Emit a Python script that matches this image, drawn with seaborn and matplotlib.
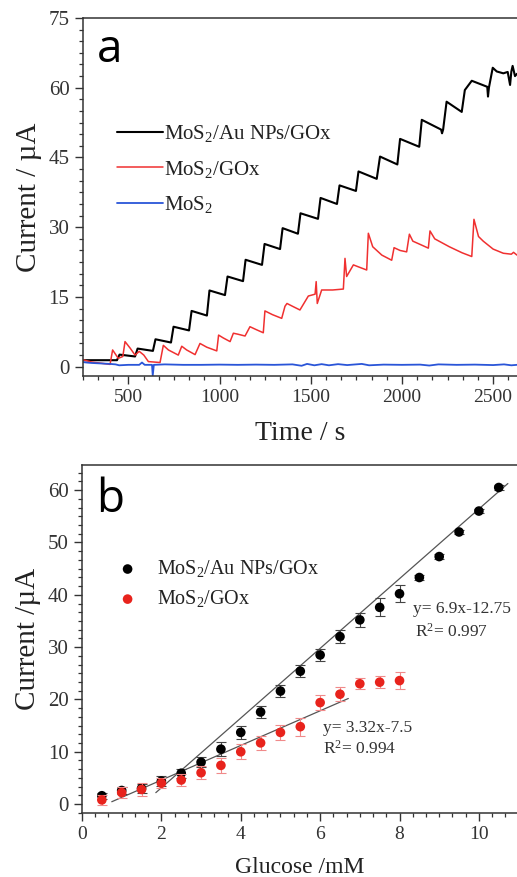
import numpy as np
import pandas as pd
import matplotlib
matplotlib.use("Agg")
import matplotlib.pyplot as plt
from matplotlib.ticker import MultipleLocator, AutoMinorLocator
import seaborn as sns

# ---- panel a: amperometric responses (time in s, current in µA) ----
t_aunp = [250, 300, 380, 438, 452, 537, 551, 635, 649, 734, 748, 833, 847, 931, 945,
          1030, 1044, 1129, 1143, 1233, 1247, 1332, 1346, 1430, 1444, 1540, 1554, 1644,
          1658, 1748, 1762, 1862, 1880, 1975, 1990, 2095, 2109, 2215, 2220, 2226, 2245,
          2328, 2345, 2383, 2468, 2472, 2477, 2498, 2520, 2556, 2580, 2593, 2600, 2607,
          2620, 2631]
i_aunp = [1.4, 1.4, 1.4, 1.4, 2.6, 2.2, 3.9, 3.4, 5.9, 5.2, 8.6, 7.8, 12.0, 11.0, 16.4,
          15.4, 19.4, 18.4, 23.0, 21.9, 26.4, 25.3, 29.8, 28.6, 33.0, 31.8, 36.3, 35.0,
          39.0, 37.8, 42.0, 40.4, 45.2, 43.5, 49.0, 47.3, 53.1, 51.0, 50.2, 51.0, 57.0,
          54.8, 59.5, 61.5, 60.2, 58.1, 60.0, 64.3, 63.5, 63.1, 63.4, 60.6, 63.5, 64.7,
          62.5, 63.0]

t_gox = [250, 300, 400, 414, 445, 470, 482, 510, 537, 560, 585, 610, 674, 692, 720, 774,
         793, 820, 866, 893, 930, 985, 995, 1020, 1058, 1076, 1100, 1140, 1167, 1200,
         1240, 1249, 1290, 1341, 1359, 1370, 1400, 1441, 1487, 1524, 1530, 1536, 1560,
         1620, 1679, 1688, 1697, 1734, 1760, 1807, 1816, 1840, 1890, 1944, 1957, 1990,
         2026, 2041, 2060, 2100, 2145, 2154, 2180, 2260, 2330, 2383, 2395, 2420, 2446,
         2500, 2556, 2600, 2612, 2631]
i_gox = [1.5, 1.0, 0.5, 3.6, 1.8, 2.2, 5.4, 4.0, 2.5, 3.3, 2.5, 1.1, 0.9, 4.6, 3.6, 2.5,
         4.4, 3.6, 2.6, 5.0, 4.2, 3.4, 6.8, 6.2, 5.4, 7.2, 7.0, 6.6, 8.6, 8.0,
         7.3, 12.0, 11.2, 10.4, 13.0, 13.6, 13.0, 12.2, 15.2, 15.6, 18.3, 13.6, 16.5,
         16.5, 16.7, 23.3, 19.4, 21.9, 21.5, 20.8, 28.7, 25.8, 24.0, 22.9, 25.6, 25.0,
         24.7, 28.5, 27.0, 26.3, 25.5, 29.2, 27.5, 25.8, 24.5, 23.7, 31.7, 28.0, 27.0,
         25.3, 24.4, 24.2, 24.6, 24.0]

t_mos2 = [250, 270, 300, 350, 400, 430, 450, 500, 560, 575, 590, 630, 634, 640, 700,
          800, 900, 1000, 1100, 1200, 1300, 1400, 1450, 1480, 1520, 1560, 1600, 1650,
          1700, 1780, 1820, 1900, 2000, 2100, 2150, 2200, 2300, 2400, 2500, 2560, 2600,
          2631]
i_mos2 = [1.0, 0.9, 0.8, 0.7, 0.6, 0.5, 0.3, 0.4, 0.4, 0.9, 0.4, 0.4, -1.9, 0.4, 0.5,
          0.4, 0.4, 0.45, 0.4, 0.45, 0.4, 0.5, 0.2, 0.6, 0.3, 0.55, 0.3, 0.55,
          0.35, 0.6, 0.3, 0.45, 0.4, 0.45, 0.25, 0.5, 0.4, 0.45, 0.35, 0.5, 0.3,
          0.4]

# ---- panel b: calibration (glucose in mM, current in µA) ----
conc_aunp = [0.5, 1.0, 1.5, 2.0, 2.5, 3.0, 3.5, 4.0, 4.5, 5.0, 5.5, 6.0, 6.5, 7.0,
             7.5, 8.0, 8.5, 9.0, 9.5, 10.0, 10.5]
cur_aunp = [1.6, 2.6, 3.0, 4.4, 5.9, 8.0, 10.5, 13.7, 17.6, 21.6, 25.4, 28.5, 32.0,
            35.2, 37.6, 40.2, 43.3, 47.3, 52.0, 56.0, 60.5]
err_aunp = [0.6, 0.7, 0.8, 0.9, 0.9, 1.0, 1.3, 1.2, 1.2, 1.1, 1.1, 1.2, 1.3, 1.3,
            1.7, 1.6, 0.5, 0.5, 0.4, 0.4, 0.4]

conc_gox = [0.5, 1.0, 1.5, 2.0, 2.5, 3.0, 3.5, 4.0, 4.5, 5.0, 5.5, 6.0, 6.5, 7.0,
            7.5, 8.0]
cur_gox = [0.8, 2.2, 2.8, 4.0, 4.6, 6.0, 7.4, 10.0, 11.7, 13.7, 14.8, 19.4, 21.0,
           23.0, 23.3, 23.6]
err_gox = [0.9, 1.0, 1.3, 0.9, 1.1, 1.2, 1.4, 1.4, 1.4, 1.4, 1.7, 1.5, 1.3, 1.1,
           1.2, 1.6]

# drawn calibration lines: slope, intercept and the concentration span they cover
line_aunp = (6.66, -10.2)
line_gox = (3.31, -2.03)
line_aunp_span = (1.86, 10.73)
line_gox_span = (0.75, 6.71)

labels = ["MoS$_2$/Au NPs/GOx", "MoS$_2$/GOx", "MoS$_2$"]

sns.set_style("ticks")
plt.rcParams["font.family"] = ["Liberation Serif", "DejaVu Serif"]
plt.rcParams["mathtext.fontset"] = "custom"
plt.rcParams["mathtext.rm"] = "Liberation Serif"
plt.rcParams["mathtext.it"] = "Liberation Serif:italic"
plt.rcParams["axes.edgecolor"] = "#333333"
plt.rcParams["axes.linewidth"] = 1.1

W, H = 517, 877
fig = plt.figure(figsize=(W / 100, H / 100), dpi=100)


def style_axes(ax):
    ax.spines["right"].set_visible(False)
    ax.tick_params(axis="both", which="major", direction="out", length=6, width=1.0,
                   color="#333333", labelcolor="#333333", right=False, top=False)
    ax.tick_params(axis="x", which="major", labelsize=14)
    ax.tick_params(axis="y", which="major", labelsize=15)
    ax.tick_params(axis="both", which="minor", direction="out", length=3, width=0.9,
                   color="#333333", right=False, top=False)
    ax.xaxis.set_minor_locator(AutoMinorLocator(6))
    ax.yaxis.set_minor_locator(AutoMinorLocator(6))
    ax.grid(False)


# ---------------- panel a ----------------
axa = fig.add_axes([82.7 / W, 1 - 376 / H, (W - 82.7) / W, (376 - 18) / H])
sns.lineplot(x=t_aunp, y=i_aunp, ax=axa, color="black", lw=1.5, sort=False,
             estimator=None, label=labels[0])
sns.lineplot(x=t_gox, y=i_gox, ax=axa, color="#f03030", lw=1.1, sort=False,
             estimator=None, label=labels[1])
sns.lineplot(x=t_mos2, y=i_mos2, ax=axa, color="#2a55d8", lw=1.3, sort=False,
             estimator=None, label=labels[2])
axa.set_xlim(250, 2631)
axa.set_ylim(-2, 75)
axa.xaxis.set_major_locator(MultipleLocator(500))
axa.yaxis.set_major_locator(MultipleLocator(15))
style_axes(axa)
axa.set_xlabel("Time / s", fontsize=20, color="#222222", labelpad=11)
axa.set_ylabel("Current / µA", fontsize=21, color="#222222", labelpad=5)
leg = axa.legend(loc="upper left", bbox_to_anchor=(0.06, 0.73), frameon=False,
                 fontsize=15, handlelength=2.2, handletextpad=0.05, labelspacing=0.7,
                 borderaxespad=0)
for txt in leg.get_texts():
    txt.set_color("#222222")
axa.text(0.033, 0.91, "a", transform=axa.transAxes, fontsize=33, family="Open Sans",
         va="center", ha="left", color="black")

# ---------------- panel b ----------------
axb = fig.add_axes([82 / W, 1 - 813 / H, 435 / W, (813 - 465) / H])

df_aunp = pd.DataFrame({"conc": conc_aunp, "cur": cur_aunp, "err": err_aunp})
df_gox = pd.DataFrame({"conc": conc_gox, "cur": cur_gox, "err": err_gox})

axb.errorbar(df_aunp["conc"], df_aunp["cur"], yerr=df_aunp["err"], fmt="none",
             ecolor="#444444", elinewidth=0.8, capsize=3.5, capthick=0.8, zorder=2)
sns.scatterplot(data=df_aunp, x="conc", y="cur", ax=axb, color="black", s=48,
                edgecolor="none", label=labels[0], zorder=3)
axb.errorbar(df_gox["conc"], df_gox["cur"], yerr=df_gox["err"], fmt="none",
             ecolor="#f08a8a", elinewidth=0.8, capsize=3.5, capthick=0.8, zorder=4)
sns.scatterplot(data=df_gox, x="conc", y="cur", ax=axb, color="#e8231c", s=48,
                edgecolor="none", label=labels[1], zorder=5)

for (k, b), span in ((line_aunp, line_aunp_span), (line_gox, line_gox_span)):
    xs = np.array(span)
    axb.plot(xs, k * xs + b, color="#555555", lw=0.9, zorder=1)

axb.set_xlim(0, 10.96)
axb.set_ylim(-1.7, 64.8)
axb.xaxis.set_major_locator(MultipleLocator(2))
axb.yaxis.set_major_locator(MultipleLocator(10))
style_axes(axb)
axb.set_xlabel("Glucose /mM", fontsize=17, color="#222222", labelpad=10)
axb.set_ylabel("Current /µA", fontsize=21, color="#222222", labelpad=5)

legb = axb.legend(loc="upper left", bbox_to_anchor=(0.04, 0.755), frameon=False,
                  fontsize=14.5, handletextpad=0.45, labelspacing=0.45,
                  borderaxespad=0, markerscale=1.0)
for txt in legb.get_texts():
    txt.set_color("#222222")

note_kw = dict(fontsize=12.5, color="#333333", va="center", ha="left")
axb.text(8.34, 37.3, "y= 6.9x-12.75", **note_kw)
axb.text(8.39, 32.9, "R$^2$= 0.997", **note_kw)
axb.text(6.08, 14.5, "y= 3.32x-7.5", **note_kw)
axb.text(6.08, 10.6, "R$^2$= 0.994", **note_kw)
axb.text(0.033, 0.90, "b", transform=axb.transAxes, fontsize=33, family="Open Sans",
         va="center", ha="left", color="black")

fig.savefig("out.png", dpi=100)
